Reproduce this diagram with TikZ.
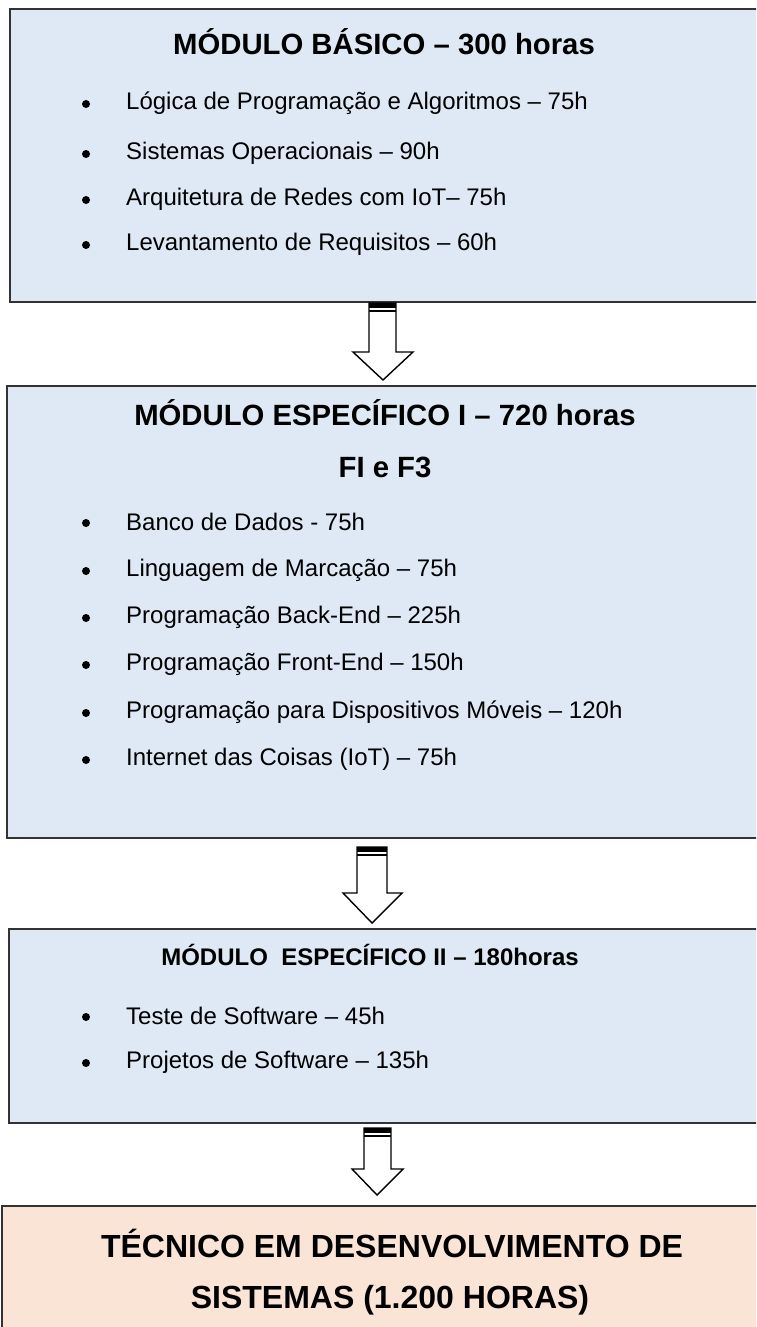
\documentclass[tikz,border=0pt]{standalone}
\usepackage{fontspec}
\setmainfont{Liberation Sans}
\definecolor{boxblue}{HTML}{DEE9F5}
\definecolor{boxpeach}{HTML}{FAE4D6}
\definecolor{edge}{HTML}{333333}
\tikzset{
  modbox/.style={draw=edge, line width=2pt, anchor=north west, inner sep=0pt},
  ttl/.style={font=\bfseries\fontsize{29.3}{34}\selectfont, inner sep=0pt},
  ttlsmall/.style={font=\bfseries\fontsize{24}{28}\selectfont, inner sep=0pt},
  ttlbig/.style={font=\bfseries\fontsize{32}{38}\selectfont, inner sep=0pt},
  item/.style={font=\fontsize{24}{28}\selectfont, anchor=west, inner sep=0pt},
  dot/.style={circle, fill=black, inner sep=0pt, minimum size=8pt},
  blockarrow/.style={draw=black, line width=1.4pt, fill=white, line join=miter},
}
\begin{document}
\begin{tikzpicture}[x=1pt,y=-1pt]
\clip (0,0) rectangle (756,1327);
\fill[white] (0,0) rectangle (756,1327);

% boxes
\node[modbox, fill=boxblue, minimum width=780pt, minimum height=293pt] (b1) at (9,8) {};
\node[modbox, fill=boxblue, minimum width=780pt, minimum height=452pt] (b2) at (6,385) {};
\node[modbox, fill=boxblue, minimum width=780pt, minimum height=194pt] (b3) at (8,928) {};
\node[modbox, fill=boxpeach, minimum width=790pt, minimum height=160pt] (b4) at (1,1205) {};

% box 1
\node[ttl] (t1) at (384,42) {MÓDULO BÁSICO – 300 horas};
\node[dot] (d11) at (86,104) {};
\node[item] (i11) at (126,103) {Lógica de Programação e Algoritmos – 75h};
\node[dot] (d12) at (86,154) {};
\node[item] (i12) at (126,153) {Sistemas Operacionais – 90h};
\node[dot] (d13) at (86,200) {};
\node[item] (i13) at (126,199) {Arquitetura de Redes com IoT– 75h};
\node[dot] (d14) at (86,245) {};
\node[item] (i14) at (126,244) {Levantamento de Requisitos – 60h};

% box 2
\node[ttl] (t2) at (385,413) {MÓDULO ESPECÍFICO I – 720 horas};
\node[ttl] (t2b) at (385,467) {FI e F3};
\node[dot] (d21) at (86,523) {};
\node[item] (i21) at (126,522) {Banco de Dados - 75h};
\node[dot] (d22) at (86,571) {};
\node[item] (i22) at (126,570) {Linguagem de Marcação – 75h};
\node[dot] (d23) at (86,618) {};
\node[item] (i23) at (126,617) {Programação Back-End – 225h};
\node[dot] (d24) at (86,665) {};
\node[item] (i24) at (126,664) {Programação Front-End – 150h};
\node[dot] (d25) at (86,713) {};
\node[item] (i25) at (126,712) {Programação para Dispositivos Móveis – 120h};
\node[dot] (d26) at (86,760) {};
\node[item] (i26) at (126,759) {Internet das Coisas (IoT) – 75h};

% box 3
\node[ttlsmall] (t3) at (370,955) {MÓDULO\ \ ESPECÍFICO II – 180horas};
\node[dot] (d31) at (86,1017) {};
\node[item] (i31) at (126,1016) {Teste de Software – 45h};
\node[dot] (d32) at (86,1063) {};
\node[item] (i32) at (126,1062) {Projetos de Software – 135h};

% box 4
\node[ttlbig] (t4a) at (392,1243) {TÉCNICO EM DESENVOLVIMENTO DE};
\node[ttlbig] (t4b) at (390,1300) {SISTEMAS (1.200 HORAS)};

% arrows
\draw[blockarrow] (369,303) -- (369,352) -- (353,352) -- (383,380) -- (413,352) -- (396,352) -- (396,303) -- cycle;
\fill (369,303) rectangle (396,308);
\draw[line width=1.2pt] (369,311) -- (396,311);

\draw[blockarrow] (357,847) -- (357,893) -- (343,893) -- (372,923) -- (402,893) -- (387,893) -- (387,847) -- cycle;
\fill (357,847) rectangle (387,852);
\draw[line width=1.2pt] (357,855) -- (387,855);

\draw[blockarrow] (364,1128) -- (364,1169) -- (352,1169) -- (377,1195) -- (403,1169) -- (391,1169) -- (391,1128) -- cycle;
\fill (364,1128) rectangle (391,1133);
\draw[line width=1.2pt] (364,1136) -- (391,1136);
\end{tikzpicture}
\end{document}
